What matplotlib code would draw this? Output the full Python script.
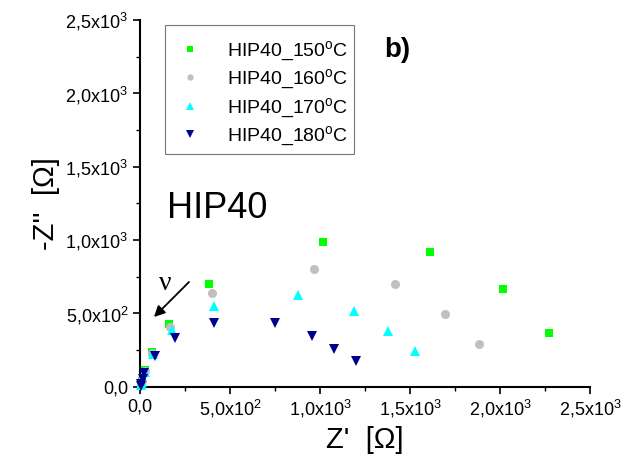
import matplotlib
matplotlib.use("Agg")
import matplotlib.pyplot as plt
from matplotlib.ticker import MultipleLocator, FuncFormatter
import math

plt.rcParams['font.family'] = ['Liberation Sans', 'DejaVu Sans']
plt.rcParams['mathtext.fontset'] = 'custom'
plt.rcParams['mathtext.rm'] = 'Liberation Sans'
plt.rcParams['mathtext.it'] = 'Liberation Sans:italic'

labels = ["HIP40_150$^{\\mathrm{o}}$C", "HIP40_160$^{\\mathrm{o}}$C",
          "HIP40_170$^{\\mathrm{o}}$C", "HIP40_180$^{\\mathrm{o}}$C"]

x150 = [5, 12, 30, 68, 159, 384, 1017, 1609, 2014, 2272]
y150 = [10, 40, 113, 237, 426, 698, 984, 920, 665, 363]
x160 = [5, 12, 28, 65, 167, 400, 968, 1415, 1694, 1885]
y160 = [8, 35, 105, 229, 408, 636, 801, 697, 497, 288]
x170 = [4, 10, 28, 70, 180, 413, 879, 1187, 1376, 1529]
y170 = [8, 30, 101, 220, 385, 548, 622, 513, 377, 242]
x180 = [3, 8, 15, 22, 81, 194, 409, 752, 954, 1078, 1200]
y180 = [5, 20, 50, 94, 208, 331, 435, 431, 344, 254, 174]

series = [(x150, y150, 's', '#00FF00', 6),
          (x160, y160, 'o', '#C0C0C0', 6.5),
          (x170, y170, '^', '#00FFFF', 7.5),
          (x180, y180, 'v', '#000090', 7.5)]

W, H = 626, 473
fig = plt.figure(figsize=(W/100, H/100), dpi=100)
ax = fig.add_axes([140/W, 1-386.5/H, 450/W, 366.5/H])

handles = []
for (xs, ys, m, c, ms), lab in zip(series, labels):
    h, = ax.plot(xs, ys, linestyle='none', marker=m, color=c, markersize=ms,
                 markeredgewidth=0, label=lab, clip_on=False, zorder=3)
    handles.append(h)

ax.set_xlim(0, 2500)
ax.set_ylim(0, 2500)
for s in ['top', 'right']:
    ax.spines[s].set_visible(False)
for s in ['left', 'bottom']:
    ax.spines[s].set_linewidth(1.5)

ax.xaxis.set_major_locator(MultipleLocator(500))
ax.xaxis.set_minor_locator(MultipleLocator(250))
ax.yaxis.set_major_locator(MultipleLocator(500))
ax.yaxis.set_minor_locator(MultipleLocator(250))

def fmt(v, pos):
    if v == 0:
        return "0,0"
    e = int(math.floor(math.log10(abs(v)) + 1e-9))
    m = v / 10**e
    return ("%.1f" % m).replace('.', ',') + "x10$^{%d}$" % e

ax.xaxis.set_major_formatter(FuncFormatter(fmt))
ax.yaxis.set_major_formatter(FuncFormatter(fmt))
ax.tick_params(which='major', direction='out', length=5, width=1.2, labelsize=13)
ax.tick_params(which='minor', direction='out', length=3, width=1.0)

ax.set_xlabel("Z'  [\u03a9]", fontsize=21, labelpad=4)
ax.set_ylabel("-Z''  [\u03a9]", fontsize=21, labelpad=4)

leg = ax.legend(handles=handles, loc='upper left', bbox_to_anchor=(25/450, 1-5/366.5),
                borderaxespad=0, fontsize=14, frameon=True, fancybox=False,
                edgecolor='#555555', markerscale=0.7, handletextpad=0.9,
                borderpad=0.3, labelspacing=0.25, handlelength=2.0,
                title=" ", title_fontsize=3)
leg.get_frame().set_linewidth(0.8)

fig.text(397/W, 1-50/H, "b)", fontsize=20, fontweight='bold', ha='center', va='center')
fig.text(167/W, 1-218/H, "HIP40", fontsize=26, ha='left', va='baseline')
fig.text(165/W, 1-283/H, "\u03bd", fontsize=20, family='Liberation Serif', ha='center', va='center')
ax.annotate("", xy=(154, H-317), xycoords='figure pixels', xytext=(189, H-282),
            textcoords='figure pixels',
            arrowprops=dict(arrowstyle='-|>', color='black', lw=1.3, mutation_scale=16,
                            shrinkA=0, shrinkB=0))

fig.savefig("out.png", dpi=100)
